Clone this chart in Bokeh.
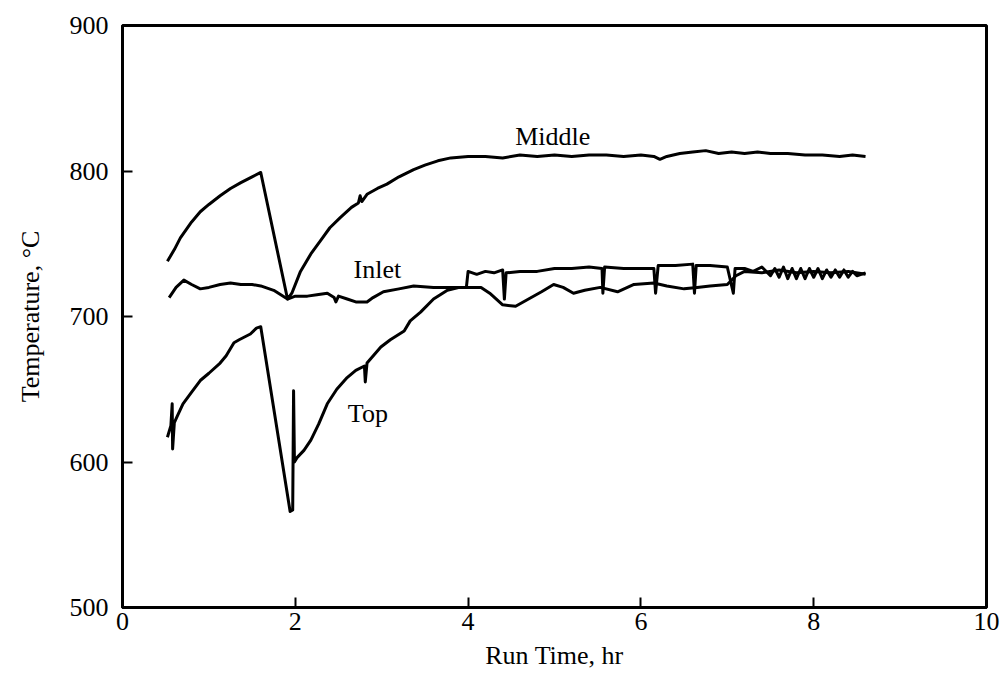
from bokeh.plotting import figure
from bokeh.embed import file_html
from bokeh.resources import INLINE
from bokeh.models import FixedTicker, Range1d
from bokeh.core.properties import value

middle_x = [0.52, 0.60, 0.67, 0.80, 0.90, 1.00, 1.13, 1.25, 1.37, 1.50, 1.60, 1.91, 1.96, 2.06, 2.18, 2.29,
            2.40, 2.52, 2.65, 2.73, 2.75, 2.77, 2.83, 2.95, 3.06, 3.20, 3.37, 3.50, 3.65, 3.80, 4.00, 4.20,
            4.40, 4.60, 4.80, 5.00, 5.20, 5.40, 5.60, 5.80, 6.00, 6.15, 6.22, 6.30, 6.45, 6.60, 6.75, 6.90,
            7.05, 7.20, 7.35, 7.50, 7.70, 7.90, 8.10, 8.30, 8.45, 8.60]
middle_y = [738, 746, 754, 765, 772, 777, 783, 788, 792, 796, 799, 712, 716, 731, 743, 752,
            761, 768, 775, 778, 783, 779, 784, 788, 791, 796, 801, 804, 807, 809, 810, 810,
            809, 811, 810, 811, 810, 811, 811, 810, 811, 810, 808, 810, 812, 813, 814, 812,
            813, 812, 813, 812, 812, 811, 811, 810, 811, 810]

inlet_x = [0.54, 0.62, 0.71, 0.80, 0.90, 1.00, 1.13, 1.25, 1.37, 1.50, 1.60, 1.75, 1.91, 2.00, 2.14, 2.25,
           2.37, 2.45, 2.47, 2.50, 2.60, 2.70, 2.83, 2.90, 3.02, 3.20, 3.37, 3.60, 3.80, 3.98, 4.00, 4.10,
           4.20, 4.30, 4.40, 4.42, 4.44, 4.60, 4.80, 5.00, 5.20, 5.40, 5.55, 5.56, 5.58, 5.80, 6.00, 6.15,
           6.17, 6.20, 6.40, 6.60, 6.62, 6.64, 6.80, 7.00, 7.07, 7.09, 7.20, 7.30, 7.40, 7.50, 7.55, 7.60,
           7.65, 7.70, 7.75, 7.80, 7.85, 7.90, 7.95, 8.00, 8.05, 8.10, 8.15, 8.20, 8.25, 8.30, 8.35, 8.40,
           8.45, 8.50, 8.60]
inlet_y = [713, 720, 725, 722, 719, 720, 722, 723, 722, 722, 721, 718, 712, 714, 714, 715,
           716, 713, 710, 714, 712, 710, 710, 713, 717, 719, 721, 720, 720, 720, 731, 729,
           731, 730, 732, 712, 730, 731, 731, 733, 733, 734, 733, 716, 734, 733, 733, 733,
           716, 735, 735, 736, 716, 735, 735, 734, 716, 733, 733, 731, 734, 728, 733, 727,
           734, 726, 733, 726, 733, 726, 733, 727, 733, 726, 732, 727, 732, 727, 732, 727,
           731, 728, 730]

top_x = [0.52, 0.56, 0.575, 0.58, 0.60, 0.63, 0.70, 0.80, 0.90, 1.00, 1.13, 1.20, 1.29, 1.35, 1.48, 1.55,
         1.60, 1.94, 1.97, 1.98, 1.99, 2.02, 2.10, 2.18, 2.27, 2.37, 2.48, 2.60, 2.70, 2.80, 2.81, 2.83,
         2.99, 3.10, 3.26, 3.33, 3.45, 3.60, 3.76, 3.90, 4.00, 4.15, 4.25, 4.40, 4.55, 4.70, 4.85, 4.99,
         5.10, 5.22, 5.35, 5.53, 5.73, 5.92, 6.15, 6.30, 6.50, 6.65, 6.80, 7.00, 7.10, 7.20, 7.40, 7.60,
         7.80, 8.00, 8.20, 8.40, 8.60]
top_y = [617, 625, 640, 609, 627, 631, 640, 648, 656, 661, 668, 673, 682, 684, 688, 692,
         693, 566, 567, 649, 600, 603, 608, 615, 626, 640, 650, 658, 663, 666, 655, 668,
         679, 684, 690, 697, 703, 712, 718, 720, 720, 720, 716, 708, 707, 712, 717, 722,
         720, 716, 718, 720, 717, 722, 723, 721, 719, 720, 721, 722, 728, 731, 730, 732,
         730, 731, 730, 731, 729]

x_ticks = [0, 2, 4, 6, 8, 10]
y_ticks = [500, 600, 700, 800, 900]

series_labels = ["Middle", "Inlet", "Top"]
label_x = [4.98, 2.95, 2.84]
label_y = [824, 732, 633]

FONT = "Liberation Serif"

p = figure(width=1005, height=679, output_backend="svg", toolbar_location=None,
           x_range=Range1d(0, 10), y_range=Range1d(500, 900),
           min_border_left=122, min_border_right=19, min_border_top=25, min_border_bottom=72)

for xs, ys in [(middle_x, middle_y), (inlet_x, inlet_y), (top_x, top_y)]:
    p.line(xs, ys, line_color="black", line_width=3, line_join="round")

p.text(x=label_x, y=label_y, text=series_labels, text_font=value(FONT), text_font_size="26px",
       text_align="center", text_baseline="alphabetic", text_color="black")

p.grid.visible = False
p.outline_line_color = "black"
p.outline_line_width = 3
p.background_fill_color = "white"
p.border_fill_color = "white"

p.xaxis.ticker = FixedTicker(ticks=x_ticks)
p.yaxis.ticker = FixedTicker(ticks=y_ticks)
for ax in (p.xaxis, p.yaxis):
    ax.axis_line_color = "black"
    ax.axis_line_width = 3
    ax.major_tick_in = 10
    ax.major_tick_out = 0
    ax.major_tick_line_width = 2
    ax.minor_tick_line_color = None
    ax.major_label_text_font = FONT
    ax.major_label_text_font_size = "26px"
    ax.major_label_text_color = "black"
    ax.axis_label_text_font = FONT
    ax.axis_label_text_font_size = "26px"
    ax.axis_label_text_font_style = "normal"
    ax.axis_label_text_color = "black"

p.xaxis.axis_label = "Run Time, hr"
p.yaxis.axis_label = "Temperature, °C"
p.xaxis.major_label_standoff = 5
p.yaxis.major_label_standoff = 14
p.xaxis.axis_label_standoff = 8
p.yaxis.axis_label_standoff = 22

open("out.html", "w").write(file_html(p, INLINE))
